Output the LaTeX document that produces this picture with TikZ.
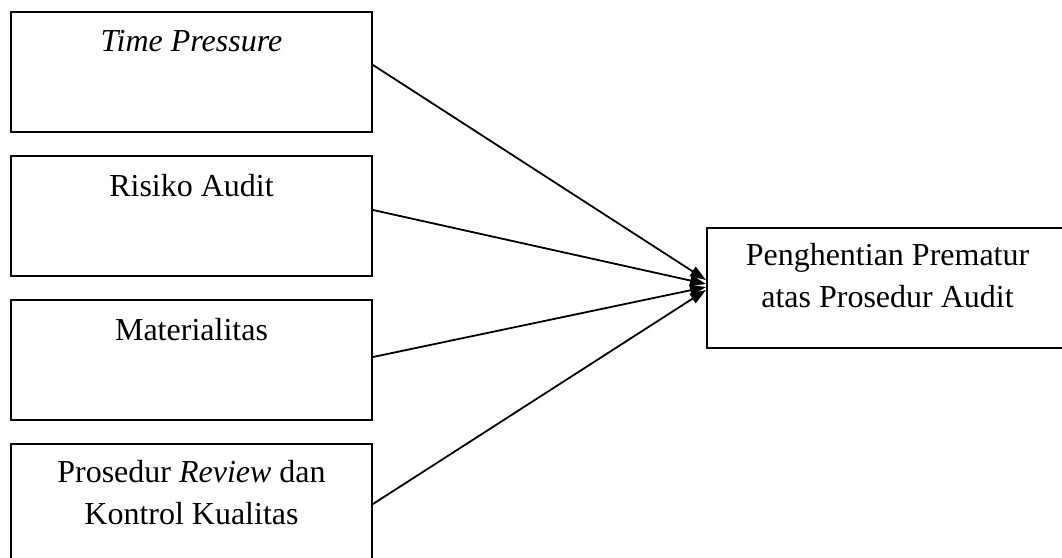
\documentclass[tikz,border=0pt]{standalone}
\usepackage{fontspec}
\setmainfont{Liberation Serif}
\usepackage{tikz}
\usetikzlibrary{arrows.meta,positioning}

\begin{document}
\begin{tikzpicture}[x=1pt,y=-1pt,
 varbox/.style={draw,line width=2pt,minimum width=361pt,minimum height=120pt,inner sep=0pt},
 vartext/.style={anchor=base,align=center,inner sep=0pt,font=\fontsize{32}{42}\selectfont},
 arrow/.style={-{Triangle[length=16pt,width=11pt]},line width=1.8pt}]
\useasboundingbox (0,0) rectangle (1062,557);
\clip (0,0) rectangle (1062,557);
% variabel independen
\node[varbox] (tp) at (191.5,71.5) {};
\node[varbox] (ra) at (191.5,216) {};
\node[varbox] (mt) at (191.5,360) {};
\node[varbox] (pr) at (191.5,504) {};
% variabel dependen
\node[varbox] (pp) at (887.5,287.5) {};
\node[vartext] at ([yshift=-41pt]tp.north) {\textit{Time Pressure}};
\node[vartext] at ([yshift=-41pt]ra.north) {Risiko Audit};
\node[vartext] at ([yshift=-41pt]mt.north) {Materialitas};
\node[vartext] at ([yshift=-81pt]pr.north) {Prosedur \textit{Review} dan\\Kontrol Kualitas};
\node[vartext] at ([yshift=-81pt]pp.north) {Penghentian Prematur\\atas Prosedur Audit};
\foreach \a/\s/\t in {tp/6.5/7.5,ra/6/3.5,mt/3/0.5,pr/0/-2.5}
 \draw[arrow] ([yshift=\s pt]\a.east)--([yshift=\t pt]pp.west);
\end{tikzpicture}
\end{document}
